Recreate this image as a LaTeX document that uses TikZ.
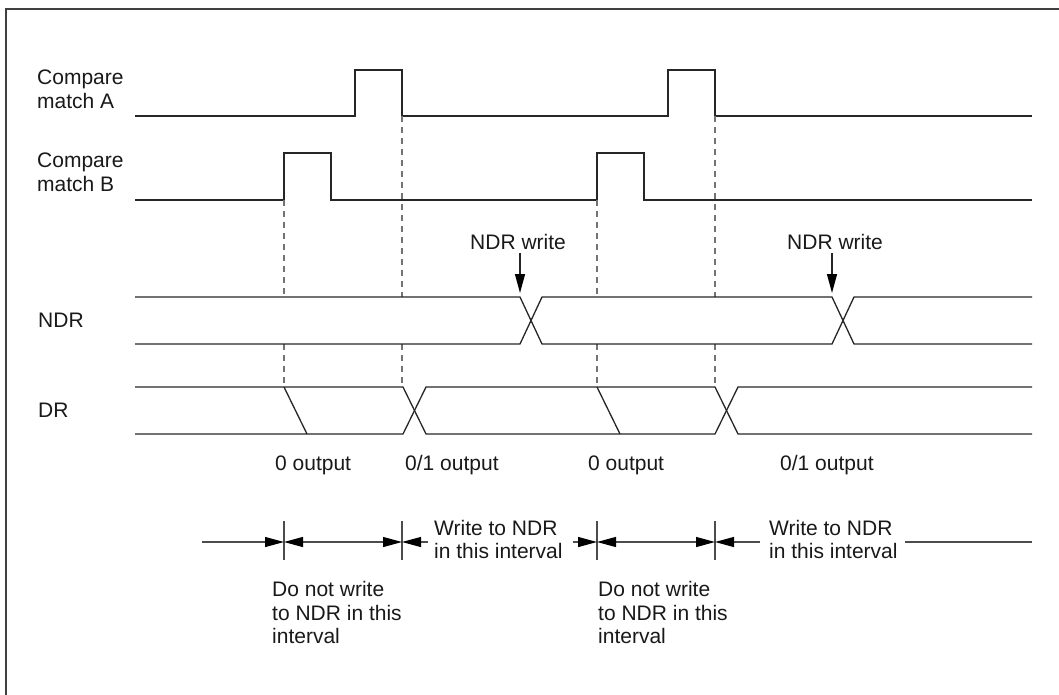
\documentclass[tikz,border=0pt]{standalone}
\usepackage{fontspec}
\setmainfont{Liberation Sans}
\usetikzlibrary{arrows.meta}
\begin{document}
\begin{tikzpicture}[x=1pt,y=-1pt,
  sig/.style={line width=1.3pt, black!85},
  dsh/.style={black!55, line width=1.2pt, dash pattern=on 6pt off 5pt},
  lbl/.style={font=\fontsize{21}{25}\selectfont, inner sep=0pt, anchor=base west, text=black!90},
  ahd/.style={Triangle[length=19pt,width=10pt,fill=black,color=black]},
  tip/.style={-{Triangle[length=19pt,width=10pt,fill=black,color=black]}},
  dtip/.style={{Triangle[length=19pt,width=10pt,fill=black,color=black]}-{Triangle[length=19pt,width=10pt,fill=black,color=black]}},
  tick/.style={line width=1.2pt, black!70},
  iline/.style={line width=1.2pt, black!70}]
\useasboundingbox (0,0) rectangle (1059,694);
\draw[line width=2pt, black!75] (6,700) -- (6,9) -- (1065,9);

% labels
\node[lbl] (ca1) at (37,84) {Compare};
\node[lbl] (ca2) at (37,108) {match A};
\node[lbl] (cb1) at (37,167) {Compare};
\node[lbl] (cb2) at (37,191) {match B};
\node[lbl] (ndrl) at (38,327) {NDR};
\node[lbl] (drl) at (38,417) {DR};

% Compare match A
\draw[sig] (135,116) -- (355,116) -- (355,70) -- (402,70) -- (402,116) -- (668,116) -- (668,70) -- (715,70) -- (715,116) -- (1032,116);
% Compare match B
\draw[sig] (135,200) -- (284,200) -- (284,153) -- (331,153) -- (331,200) -- (597,200) -- (597,153) -- (644,153) -- (644,200) -- (1032,200);

% dashed guides
\foreach \x/\y in {284/200, 402/116, 597/200, 715/116} {
  \draw[dsh] (\x,\y) -- (\x,297);
  \draw[dsh] (\x,344) -- (\x,387);
}

% NDR bus
\draw[sig] (135,297) -- (520,297) -- (542,344) -- (832,344) -- (854,297) -- (1032,297);
\draw[sig] (135,344) -- (520,344) -- (542,297) -- (832,297) -- (854,344) -- (1032,344);

% DR bus
\draw[sig] (135,387) -- (403,387) -- (426,434) -- (715,434) -- (738,387) -- (1032,387);
\draw[sig] (135,434) -- (403,434) -- (426,387) -- (715,387) -- (738,434) -- (1032,434);
\draw[sig] (284,387) -- (307,434);
\draw[sig] (597,387) -- (620,434);

% NDR write markers
\node[lbl] (w1) at (470,249) {NDR write};
\node[lbl] (w2) at (787,249) {NDR write};
\coordinate (w1t) at (520,253);
\coordinate (w1b) at (520,293);
\coordinate (w2t) at (832,253);
\coordinate (w2b) at (832,293);
\draw[sig, tip] (w1t) -- (w1b);
\draw[sig, tip] (w2t) -- (w2b);

% output labels
\node[lbl] (o1) at (275,470) {0 output};
\node[lbl] (o2) at (405,470) {0/1 output};
\node[lbl] (o3) at (588,470) {0 output};
\node[lbl] (o4) at (780,470) {0/1 output};

% interval row
\foreach \x [count=\i] in {284,402,597,715} {
  \coordinate (t\i) at (\x,542);
  \draw[tick] (\x,521) -- (\x,560);
}
\coordinate (s0) at (202,542);
\coordinate (s1) at (428,542);
\coordinate (s2) at (573,542);
\coordinate (s3) at (760,542);
\coordinate (s4) at (905,542);
\coordinate (s5) at (1032,542);
\draw[iline, tip] (s0) -- (t1);
\draw[iline, dtip] (t1) -- (t2);
\draw[iline, tip] (s1) -- (t2);
\draw[iline, tip] (s2) -- (t3);
\draw[iline, dtip] (t3) -- (t4);
\draw[iline, tip] (s3) -- (t4);
\draw[iline] (s4) -- (s5);

\node[lbl] (a1) at (434,535) {Write to NDR};
\node[lbl] (a2) at (434,558) {in this interval};
\node[lbl] (b1) at (769,535) {Write to NDR};
\node[lbl] (b2) at (769,558) {in this interval};

\node[lbl] (d1) at (272,596) {Do not write};
\node[lbl] (d2) at (272,620) {to NDR in this};
\node[lbl] (d3) at (272,643) {interval};
\node[lbl] (e1) at (598,596) {Do not write};
\node[lbl] (e2) at (598,620) {to NDR in this};
\node[lbl] (e3) at (598,643) {interval};
\end{tikzpicture}
\end{document}
